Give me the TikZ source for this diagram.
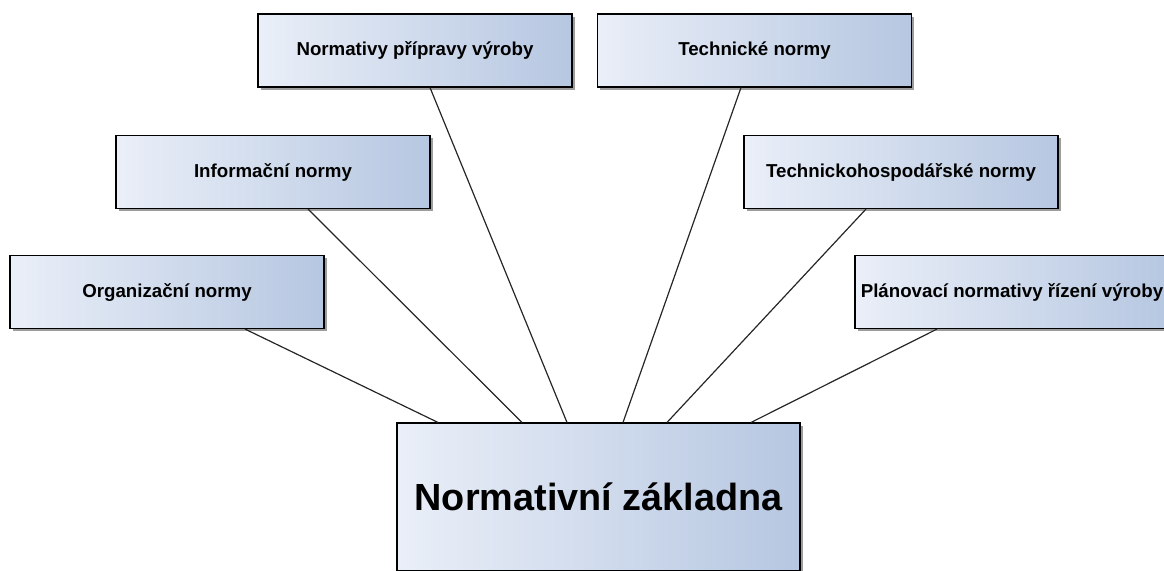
\documentclass[tikz,border=0pt]{standalone}
\usepackage{fontspec}
\setmainfont{Liberation Sans}
\usetikzlibrary{shadows,calc}
\definecolor{boxL}{RGB}{234,239,248}
\definecolor{boxR}{RGB}{182,199,225}
\tikzset{
  nbox/.style={draw=black, line width=1.1pt, left color=boxL, right color=boxR,
    minimum width=314pt, minimum height=73pt, inner sep=0pt, align=center,
    font=\fontsize{18.7}{22}\selectfont\bfseries,
    drop shadow={shadow xshift=2.5pt, shadow yshift=-2.5pt, opacity=0.55, fill=black!70}},
  bigbox/.style={nbox, minimum width=403pt, minimum height=148pt,
    font=\fontsize{37.8}{44}\selectfont\bfseries},
  link/.style={draw=black!85, line width=1.2pt}
}
\begin{document}
\begin{tikzpicture}[x=1pt,y=-1pt]
\useasboundingbox (0,0) rectangle (1164,570);
\clip (0,0) rectangle (1164,570);
\node[nbox] (prip) at (415,50.5) {Normativy přípravy výroby};
\node[nbox] (tech) at (754.5,50.5) {Technické normy};
\node[nbox] (info) at (273,172) {Informační normy};
\node[nbox] (hosp) at (901,172) {Technickohospodářské normy};
\node[nbox] (org) at (167,292) {Organizační normy};
\node[nbox] (plan) at (1012,292) {Plánovací normativy řízení výroby};
\node[bigbox] (zak) at (598.5,497) {Normativní základna};
\draw[link] ($(org.south)+(78,0)$) -- ($(zak.north)+(-160.5,0)$);
\draw[link] ($(info.south)+(35,0)$) -- ($(zak.north)+(-76.5,0)$);
\draw[link] ($(prip.south)+(15,0)$) -- ($(zak.north)+(-31.5,0)$);
\draw[link] ($(tech.south)+(-13.5,0)$) -- ($(zak.north)+(24.5,0)$);
\draw[link] ($(hosp.south)+(-35,0)$) -- ($(zak.north)+(68.5,0)$);
\draw[link] ($(plan.south)+(-75,0)$) -- ($(zak.north)+(152.5,0)$);
\end{tikzpicture}
\end{document}
